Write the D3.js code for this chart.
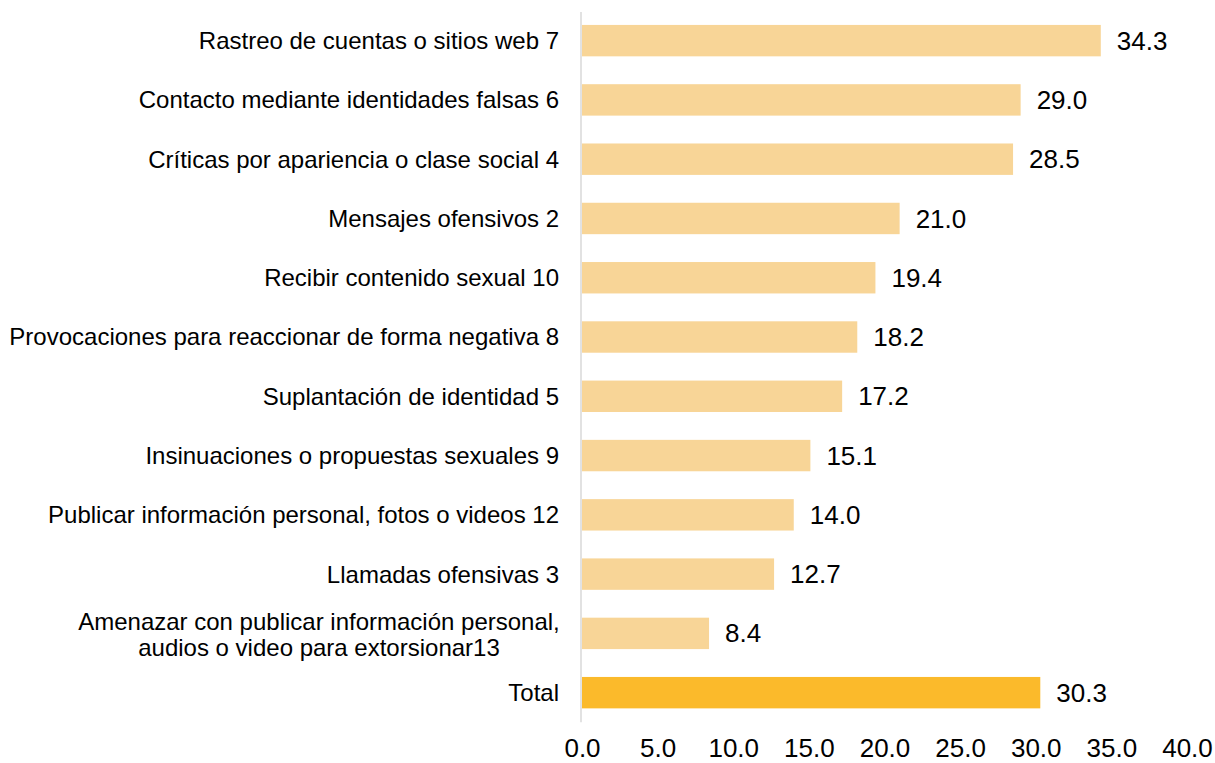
<!DOCTYPE html>
<html>
<head>
<meta charset="utf-8">
<script src="https://cdn.jsdelivr.net/npm/d3@7"></script>
<style>
  html, body { margin: 0; padding: 0; background: #ffffff; overflow: hidden; }
  svg { display: block; font-family: "Liberation Sans", Arial, sans-serif; }
</style>
</head>
<body>
<svg id="chart" width="1215" height="763"></svg>
<script>
const categories = [
  "Rastreo de cuentas o sitios web 7",
  "Contacto mediante identidades falsas 6",
  "Críticas por apariencia o clase social 4",
  "Mensajes ofensivos 2",
  "Recibir contenido sexual 10",
  "Provocaciones para reaccionar de forma negativa 8",
  "Suplantación de identidad 5",
  "Insinuaciones o propuestas sexuales 9",
  "Publicar información personal, fotos o videos 12",
  "Llamadas ofensivas 3",
  "Amenazar con publicar información personal,\naudios o video para extorsionar13",
  "Total"
];
const values = [34.3, 29.0, 28.5, 21.0, 19.4, 18.2, 17.2, 15.1, 14.0, 12.7, 8.4, 30.3];
const tickValues = [0, 5, 10, 15, 20, 25, 30, 35, 40];

const svg = d3.select("#chart");
const x = d3.scaleLinear().domain([0, 40]).range([582, 1187]);
const y = d3.scaleBand().domain(categories).range([11, 722.3])
  .paddingInner(0.47).paddingOuter(0.235);

const data = categories.map((c, i) => ({ cat: c, val: values[i], total: c === "Total" }));

// bars
svg.append("g").selectAll("rect").data(data).join("rect")
  .attr("x", x(0))
  .attr("y", d => y(d.cat))
  .attr("width", d => x(d.val) - x(0))
  .attr("height", y.bandwidth())
  .attr("fill", d => d.total ? "#FBBA2B" : "#F8D597");

// vertical axis line
svg.append("line")
  .attr("x1", 581).attr("x2", 581)
  .attr("y1", y.range()[0] + 1).attr("y2", y.range()[1])
  .attr("stroke", "#d9d9d9").attr("stroke-width", 1.5);

// category labels
const lab = svg.append("g").selectAll("text").data(data).join("text")
  .attr("text-anchor", d => d.cat.includes("\n") ? "middle" : "end")
  .attr("font-size", 24)
  .attr("fill", "#000");
lab.each(function(d) {
  const t = d3.select(this);
  const cy = y(d.cat) + y.bandwidth() / 2;
  const lines = d.cat.split("\n");
  if (lines.length === 1) {
    t.attr("x", 559).attr("y", cy).attr("dy", "0.35em").text(d.cat);
  } else {
    const lh = 26;
    lines.forEach((ln, k) => {
      t.append("tspan").attr("x", 319)
        .attr("y", cy + 1 + (k - (lines.length - 1) / 2) * lh)
        .attr("dy", "0.35em").text(ln);
    });
  }
});

// value labels
svg.append("g").selectAll("text").data(data).join("text")
  .attr("x", d => x(d.val) + 16)
  .attr("y", d => y(d.cat) + y.bandwidth() / 2)
  .attr("dy", "0.35em")
  .attr("font-size", 26)
  .attr("fill", "#000")
  .text(d => d3.format(".1f")(d.val));

// x axis tick labels
const xAxis = d3.axisBottom(x).tickValues(tickValues).tickFormat(d3.format(".1f")).tickSize(0).tickPadding(0);
const gx = svg.append("g").attr("transform", "translate(0,739)").call(xAxis);
gx.select(".domain").remove();
gx.selectAll("text").attr("font-size", 26).attr("fill", "#000")
  .attr("font-family", "Liberation Sans, Arial, sans-serif").attr("dy", "0.71em");
</script>
</body>
</html>
